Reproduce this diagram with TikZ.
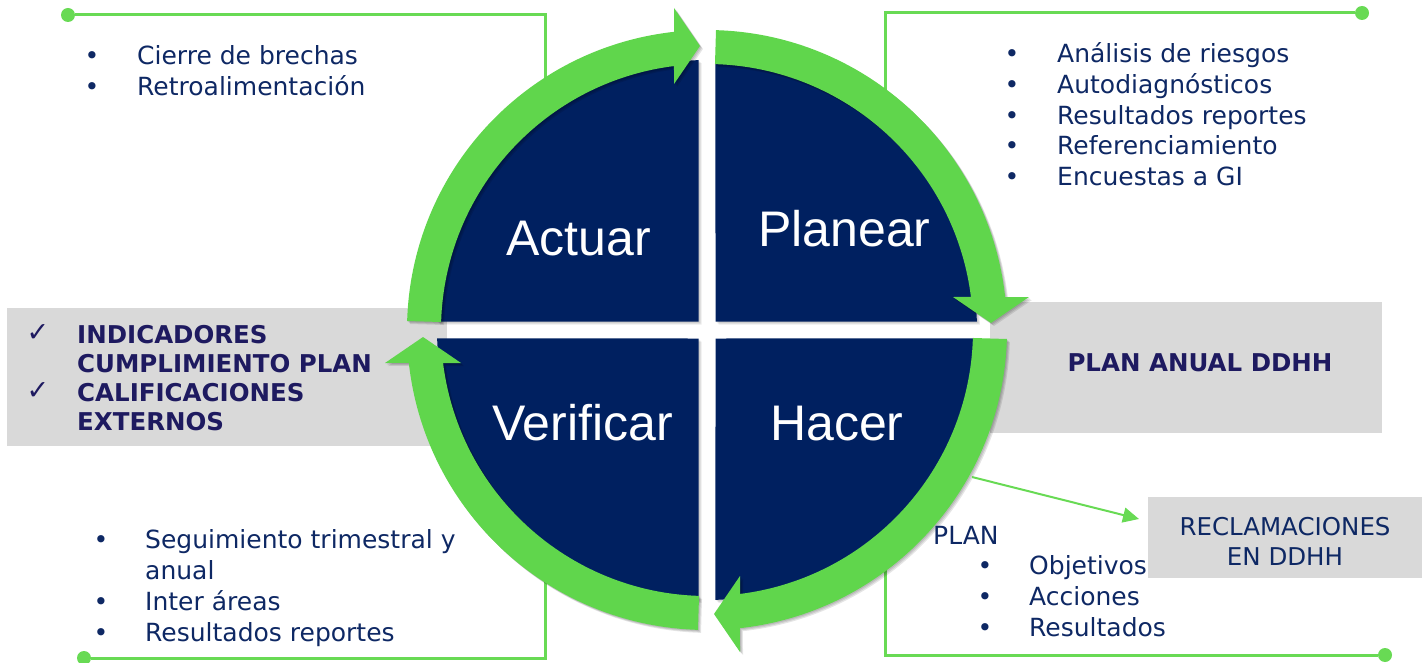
\documentclass[tikz,border=0pt]{standalone}
\usepackage{fontspec}
\setmainfont{DejaVu Sans}
\newfontfamily\labfont{Liberation Sans}
\usetikzlibrary{arrows.meta}

\definecolor{navy}{RGB}{0,32,96}
\definecolor{ringgreen}{RGB}{96,214,76}
\definecolor{linegreen}{RGB}{104,218,84}
\definecolor{boxgray}{RGB}{217,217,217}
\definecolor{listblue}{RGB}{14,40,100}
\definecolor{capsblue}{RGB}{30,26,96}

\begin{document}
\begin{tikzpicture}[x=1pt,y=1pt,
  % one quarter of the ring: band from the gap, clockwise, ending in a head
  ringarrow/.pic={\fill[pic actions] (178.28:300) arc[start angle=178.28,end angle=96.31,radius=300]
      -- (-33,322) -- (-7,284) -- (-33,246)
      -- (97.13:266) arc[start angle=97.13,end angle=178.28,radius=266] -- cycle;},
  % one dark quarter of the disc, kept clear of the cross-shaped gap
  quadrant/.pic={\fill[pic actions] (-8.5,8.5) -- (178.2:270) arc[start angle=178.2,end angle=91.8,radius=270] -- cycle;},
  dot/.style={circle, fill=linegreen, minimum size=14pt, inner sep=0},
  conn/.style={linegreen, line width=3pt},
  graybox/.style={fill=boxgray, inner sep=0},
  bullet/.style={anchor=base, inner sep=0, text=listblue, font=\fontsize{25}{30}\selectfont},
  item/.style={anchor=base west, inner sep=0, text=listblue, font=\fontsize{25}{30}\selectfont},
  caps/.style={anchor=base west, inner sep=0, text=capsblue, font=\fontsize{24.5}{30}\selectfont\bfseries},
  tick/.style={anchor=base, inner sep=0, text=capsblue, font=\fontsize{27}{30}\selectfont},
  quad/.style={anchor=base west, inner sep=0, text=white, font=\labfont\fontsize{50}{60}\selectfont},
]
\useasboundingbox (0,0) rectangle (1427,-663);

% grey panels behind the cycle
\node[graybox, minimum width=440pt, minimum height=138pt] (lbox) at (227,-377) {};
\node[graybox, minimum width=392pt, minimum height=131pt] (rbox) at (1186,-367.5) {};
\node[graybox, minimum width=274pt, minimum height=81pt] (cbox) at (1285,-537.5) {};

% green leader lines ending in dots
\node[dot] (tl) at (68,-15) {};
\coordinate (tlend) at (545,-110);
\draw[conn] (tl) -| (tlend);
\node[dot] (tr) at (1362,-13) {};
\coordinate (trend) at (885,-120);
\draw[conn] (tr) -| (trend);
\node[dot] (bl) at (84,-658) {};
\coordinate (blend) at (545,-560);
\draw[conn] (bl) -| (blend);
\node[dot] (br) at (1385,-655) {};
\coordinate (brend) at (885,-560);
\draw[conn] (br) -| (brend);

% dark disc in four quarters, with a soft shadow
\foreach \s in {1,2,3}
  \foreach \r in {0,-90,-180,-270}
    \pic[fill=black, fill opacity=0.08, rotate=\r] at (707+\s,-330-\s) {quadrant};
\foreach \r in {0,-90,-180,-270}
  \pic[fill=navy, rotate=\r] at (707,-330) {quadrant};

% green cycle arrows, with a soft shadow
\foreach \s in {1,2,3}
  \foreach \r in {0,-90,-180,-270}
    \pic[fill=black, fill opacity=0.1, rotate=\r] at (707+\s,-330-\s) {ringarrow};
\foreach \r in {0,-90,-180,-270}
  \pic[fill=ringgreen, rotate=\r] at (707,-330) {ringarrow};

% thin arrow towards the claims box
\coordinate (rs) at (972,-477);
\coordinate (rt) at (1139,-519);
\draw[linegreen, line width=2pt, -{Triangle[length=16pt,width=15pt]}] (rs) -- (rt);

% quarter labels
\node[quad] (qa) at (506,-255) {Actuar};
\node[quad] (qp) at (758,-247) {Planear};
\node[quad] (qv) at (492,-440) {Verificar};
\node[quad] (qh) at (770,-440) {Hacer};

% top left list
\node[bullet] (b1) at (92,-65) {•};
\node[item] (t1) at (137,-65) {Cierre de brechas};
\node[bullet] (b2) at (92,-96) {•};
\node[item] (t2) at (137,-96) {Retroalimentación};

% top right list
\node[bullet] (b3) at (1012,-63) {•};
\node[item] (t3) at (1057,-63) {Análisis de riesgos};
\node[bullet] (b4) at (1012,-94) {•};
\node[item] (t4) at (1057,-94) {Autodiagnósticos};
\node[bullet] (b5) at (1012,-124.5) {•};
\node[item] (t5) at (1057,-124.5) {Resultados reportes};
\node[bullet] (b6) at (1012,-155) {•};
\node[item] (t6) at (1057,-155) {Referenciamiento};
\node[bullet] (b7) at (1012,-186) {•};
\node[item] (t7) at (1057,-186) {Encuestas a GI};

% bottom left list
\node[bullet] (b8) at (101,-548) {•};
\node[item] (t8) at (145,-548) {Seguimiento trimestral y};
\node[item] (t9) at (145,-579) {anual};
\node[bullet] (b10) at (101,-610) {•};
\node[item] (t10) at (145,-610) {Inter áreas};
\node[bullet] (b11) at (101,-641) {•};
\node[item] (t11) at (145,-641) {Resultados reportes};

% bottom right list
\node[item] (t12) at (933,-544) {PLAN};
\node[bullet] (b13) at (985,-574) {•};
\node[item] (t13) at (1029,-574) {Objetivos};
\node[bullet] (b14) at (985,-605) {•};
\node[item] (t14) at (1029,-605) {Acciones};
\node[bullet] (b15) at (985,-636) {•};
\node[item] (t15) at (1029,-636) {Resultados};

% left panel
\node[tick] (k1) at (38,-341) {✓};
\node[caps] (c1) at (77,-343) {INDICADORES};
\node[caps] (c2) at (77,-372) {CUMPLIMIENTO PLAN};
\node[tick] (k2) at (38,-399) {✓};
\node[caps] (c3) at (77,-401) {CALIFICACIONES};
\node[caps] (c4) at (77,-430) {EXTERNOS};

% right panel and claims box
\node[anchor=base, inner sep=0, text=capsblue, font=\fontsize{24.5}{30}\selectfont\bfseries] (pa) at (1200,-371) {PLAN ANUAL DDHH};
\node[anchor=base, inner sep=0, text=listblue, font=\fontsize{24.5}{30}\selectfont] (r1) at (1285,-535) {RECLAMACIONES};
\node[anchor=base, inner sep=0, text=listblue, font=\fontsize{24.5}{30}\selectfont] (r2) at (1285,-565) {EN DDHH};
\end{tikzpicture}
\end{document}
